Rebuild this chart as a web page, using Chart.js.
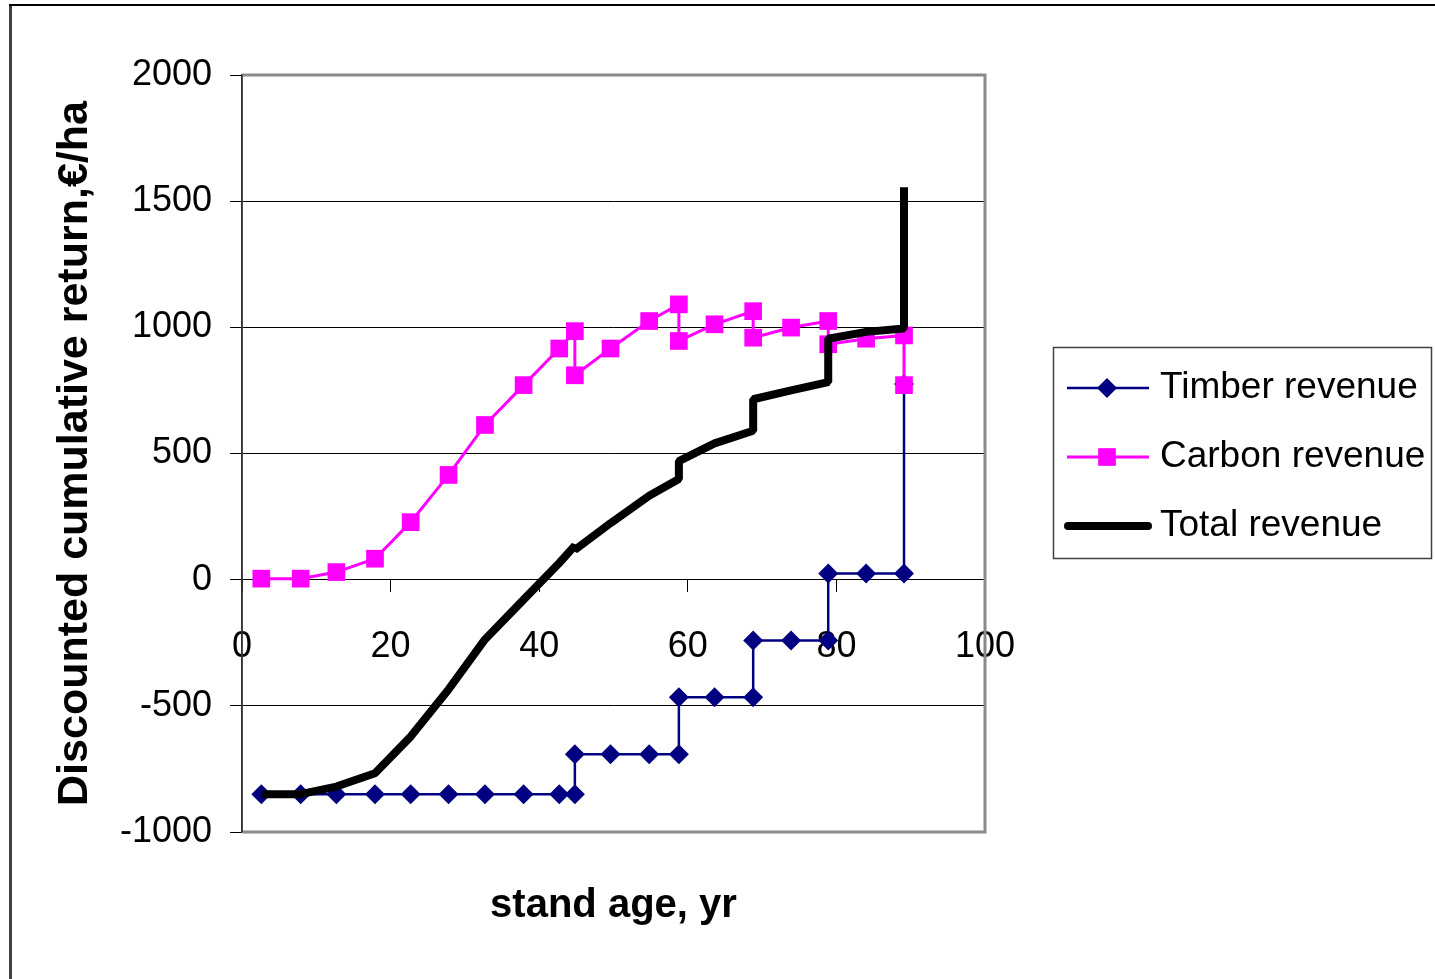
<!DOCTYPE html>
<html>
<head>
<meta charset="utf-8">
<script src="https://cdn.jsdelivr.net/npm/chart.js@4.4.1/dist/chart.umd.min.js"></script>
<style>
  html, body { margin: 0; padding: 0; background: #fff; }
  canvas { display: block; }
</style>
</head>
<body>
<canvas id="revenueChart" width="1435" height="979"></canvas>
<script>
// values (stand age in years, return in EUR/ha)
const timberAge = [2.6, 7.9, 12.7, 17.9, 22.7, 27.8, 32.7, 37.9, 42.7, 44.8, 44.8, 49.6, 54.8, 58.8, 58.8, 63.6, 68.8, 68.8, 73.9, 78.9, 78.9, 84, 89.1, 89.1];
const timberValue = [-850, -850, -850, -850, -850, -850, -850, -850, -850, -850, -692, -692, -692, -692, -466, -466, -466, -241, -241, -241, 24, 24, 24, 775];

const carbonAge = [2.6, 7.9, 12.7, 17.9, 22.7, 27.8, 32.7, 37.9, 42.7, 44.8, 44.8, 49.6, 54.8, 58.8, 58.8, 63.6, 68.8, 68.8, 73.9, 78.9, 78.9, 84, 89.1, 89.1];
const carbonValue = [4, 4, 30, 83, 228, 415, 613, 771, 916, 985, 810, 916, 1025, 1091, 946, 1012, 1064, 959, 999, 1025, 933, 955, 968, 771];

const totalAge = [2.6, 7.9, 12.7, 17.9, 22.7, 27.8, 32.7, 37.9, 42.7, 44.8, 44.8, 49.6, 54.8, 58.8, 58.8, 63.6, 68.8, 68.8, 73.9, 78.9, 78.9, 84, 89.1, 89.1];
const totalValue = [-850, -850, -820, -767, -622, -435, -237, -79, 66, 135, 118, 224, 333, 399, 470, 540, 590, 715, 750, 783, 955, 982, 995, 1555];

const seriesNames = ['Timber revenue', 'Carbon revenue', 'Total revenue'];
const xTicks = [0, 20, 40, 60, 80, 100];
const yTicks = [-1000, -500, 0, 500, 1000, 1500, 2000];

const toPoints = (xs, ys) => xs.map((x, i) => ({x: x, y: ys[i]}));

Chart.defaults.font.family = '"Liberation Sans", Arial, sans-serif';
Chart.defaults.color = '#000';

// page frame, plot border
const framePlugin = {
  id: 'frame',
  beforeDraw(chart) {
    const ctx = chart.ctx;
    ctx.save();
    ctx.fillStyle = '#fff';
    ctx.fillRect(0, 0, chart.width, chart.height);
    ctx.strokeStyle = '#404040';
    ctx.lineWidth = 3;
    ctx.beginPath();
    ctx.moveTo(10.5, 5);
    ctx.lineTo(10.5, chart.height);
    ctx.stroke();
    ctx.strokeStyle = '#000';
    ctx.lineWidth = 2;
    ctx.beginPath();
    ctx.moveTo(9, 5);
    ctx.lineTo(chart.width, 5);
    ctx.stroke();
    ctx.restore();
  },
  beforeDatasetsDraw(chart) {
    const a = chart.chartArea;
    const ctx = chart.ctx;
    ctx.save();
    ctx.strokeStyle = '#8a8a8a';
    ctx.lineWidth = 3;
    ctx.beginPath();
    ctx.moveTo(a.left, a.top);
    ctx.lineTo(a.right, a.top);
    ctx.lineTo(a.right, a.bottom);
    ctx.lineTo(a.left, a.bottom);
    ctx.stroke();
    ctx.strokeStyle = '#333';
    ctx.lineWidth = 1.5;
    ctx.beginPath();
    ctx.moveTo(a.left, a.top);
    ctx.lineTo(a.left, a.bottom);
    ctx.stroke();
    ctx.restore();
  }
};

// boxed legend with line + marker samples
const legendPlugin = {
  id: 'boxLegend',
  afterDraw(chart) {
    const ctx = chart.ctx;
    ctx.save();
    ctx.fillStyle = '#fff';
    ctx.fillRect(1053, 347, 379, 211);
    ctx.strokeStyle = '#404040';
    ctx.lineWidth = 1.5;
    ctx.strokeRect(1053.5, 347.5, 378, 211);
    chart.data.datasets.forEach((ds, i) => {
      const y = 388 + i * 69;
      ctx.strokeStyle = ds.borderColor;
      ctx.lineWidth = ds.borderWidth;
      ctx.lineCap = ds.pointRadius ? 'butt' : 'round';
      ctx.beginPath();
      ctx.moveTo(ds.pointRadius ? 1067 : 1068, y);
      ctx.lineTo(ds.pointRadius ? 1149 : 1148, y);
      ctx.stroke();
      if (ds.pointRadius) {
        ctx.fillStyle = ds.backgroundColor;
        Chart.helpers.drawPoint(ctx, {pointStyle: ds.pointStyle, radius: ds.pointRadius, rotation: 0, borderWidth: 0}, 1107, y);
      }
      ctx.fillStyle = '#000';
      ctx.font = '37px "Liberation Sans", Arial, sans-serif';
      ctx.textAlign = 'left';
      ctx.textBaseline = 'alphabetic';
      ctx.fillText(ds.label, 1160, y + 10);
    });
    ctx.restore();
  }
};

const ctx = document.getElementById('revenueChart').getContext('2d');
const chart = new Chart(ctx, {
  type: 'scatter',
  data: {
    datasets: [{
      label: seriesNames[0],
      data: toPoints(timberAge, timberValue),
      showLine: true,
      borderColor: '#000080',
      backgroundColor: '#000080',
      borderWidth: 2.5,
      pointStyle: 'rectRot',
      pointRadius: 10,
      pointBorderWidth: 0,
      order: 2
    }, {
      label: seriesNames[1],
      data: toPoints(carbonAge, carbonValue),
      showLine: true,
      borderColor: '#ff00ff',
      backgroundColor: '#ff00ff',
      borderWidth: 3,
      pointStyle: 'rect',
      pointRadius: 12.5,
      pointBorderWidth: 0,
      order: 1
    }, {
      label: seriesNames[2],
      data: toPoints(totalAge, totalValue),
      showLine: true,
      borderColor: '#000',
      backgroundColor: '#000',
      borderWidth: 8,
      borderJoinStyle: 'bevel',
      pointRadius: 0,
      order: 0
    }]
  },
  options: {
    responsive: false,
    animation: false,
    devicePixelRatio: 1,
    layout: {
      padding: {left: 0, top: 75, right: 450, bottom: 0}
    },
    scales: {
      x: {
        type: 'linear',
        position: {y: 0},
        min: 0,
        max: 100,
        afterBuildTicks: (scale) => { scale.ticks = xTicks.map(v => ({value: v})); },
        grid: {
          drawOnChartArea: false,
          drawTicks: true,
          tickLength: 12,
          tickColor: '#000',
          tickWidth: 1
        },
        border: {color: '#000', width: 1},
        ticks: {
          font: {size: 36},
          padding: 34,
          maxRotation: 0,
          callback: (v) => String(v)
        }
      },
      y: {
        type: 'linear',
        min: -1000,
        max: 2000,
        afterBuildTicks: (scale) => { scale.ticks = yTicks.map(v => ({value: v})); },
        afterFit: (scale) => { scale.width = 242; },
        grid: {
          color: '#000',
          lineWidth: 1,
          drawTicks: true,
          tickLength: 12,
          tickColor: '#000'
        },
        border: {color: '#333', width: 1.5},
        ticks: {
          font: {size: 36},
          padding: 18,
          callback: (v) => String(v)
        },
        title: {
          display: true,
          text: 'Discounted cumulative return,€/ha',
          font: {size: 43, weight: 'bold'},
          padding: {top: 49, bottom: 0}
        }
      }
    },
    plugins: {
      legend: {display: false},
      tooltip: {enabled: false},
      title: {
        display: true,
        position: 'bottom',
        fullSize: false,
        text: 'stand age, yr',
        font: {size: 40, weight: 'bold'},
        color: '#000',
        padding: {top: 50, bottom: 49}
      }
    }
  },
  plugins: [framePlugin, legendPlugin]
});
</script>
</body>
</html>
